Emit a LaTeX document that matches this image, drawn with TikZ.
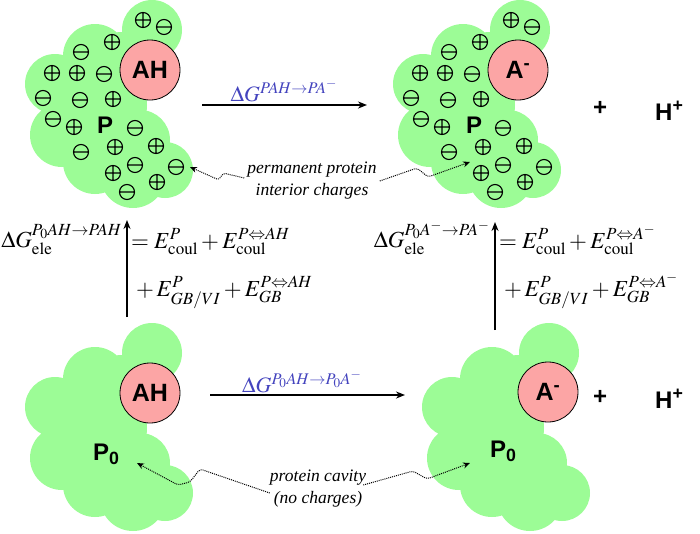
\documentclass[tikz,border=0pt]{standalone}
\usepackage{mathptmx}
\usepackage[no-math]{fontspec}
\setmainfont{Liberation Serif}
\newfontfamily\arialfam{Liberation Sans}
\usetikzlibrary{arrows.meta}
\definecolor{protgreen}{RGB}{156,252,150}
\definecolor{pinkball}{RGB}{252,165,165}
\definecolor{dgblue}{RGB}{68,68,190}
\tikzset{
  protein/.style={fill=protgreen},
  chg/.style={line width=1.1pt},
  chplus/.pic={\draw[chg] (0,0) circle (7.5) (-7.5,0)--(7.5,0) (0,-7.5)--(0,7.5);},
  chminus/.pic={\draw[chg] (0,0) circle (7.5) (-7.5,0)--(7.5,0);},
  blob/.pic={
    \fill[protein] (152,30) circle (30) (120,58) circle (26) (95,56) circle (32)
      (55,84) circle (30) (62,135) circle (32) (95,162) circle (32)
      (133,175) circle (33) (165,170) circle (28) (140,140) circle (30)
      (105,105) circle (42);},
  charges/.pic={
    \foreach \p in {(143,20),(112,42),(52,73),(77,73),(113,99),(74,127),(115,147),(156,146),(113,173),(157,182)}
      \pic at \p {chplus};
    \foreach \p in {(164,27),(81,52),(104,74),(43,98),(80,100),(53,119),(135,128),(81,152),(135,165),(176,167),(127,192)}
      \pic at \p {chminus};},
  ball/.style={circle, draw=black, line width=0.8pt, fill=pinkball, minimum size=60pt, inner sep=0pt,
    font=\arialfam\bfseries\fontsize{25}{25}\selectfont},
  biglabel/.style={font=\arialfam\bfseries\fontsize{24}{24}\selectfont, inner sep=0pt},
  rxn/.style={line width=1.5pt, -{Stealth[length=9pt,width=7pt]}},
  wig/.style={densely dotted, line width=1pt, rounded corners=3pt, -{Stealth[length=7pt,width=6pt]}},
  note/.style={font=\itshape\fontsize{17.5}{22}\selectfont, align=center, inner sep=0pt},
  eqn/.style={font=\fontsize{23}{27}\selectfont, inner sep=0pt},
  dglabel/.style={font=\fontsize{22}{26}\selectfont, text=dgblue, inner sep=0pt},
}
\begin{document}
\begin{tikzpicture}[x=1pt,y=-1pt]
\useasboundingbox (0,0) rectangle (700,533);
% blobs
\pic at (0,0) {blob};
\pic at (368,0) {blob};
\pic at (0,323) {blob};
\pic at (397,323) {blob};
\pic at (0,0) {charges};
\pic at (368,0) {charges};
% acid groups
\node[ball] (ah1) at (150,70) {AH};
\node[ball] (am1) at (518,70) {A\textsuperscript{-}};
\node[ball] (ah2) at (150,393) {AH};
\node[ball] (am2) at (548,392) {A\textsuperscript{-}};
% protein labels
\node[biglabel, anchor=base west] (p1) at (97,133) {P};
\node[biglabel, anchor=base west] (p2) at (466,133) {P};
\node[biglabel, anchor=base west] (p3) at (93,460) {P\textsubscript{0}};
\node[biglabel, anchor=base west] (p4) at (490,457) {P\textsubscript{0}};
% + H+
\node[biglabel] (plus1) at (600,108) {+};
\node[biglabel, anchor=base west] (h1) at (655,120) {H\textsuperscript{+}};
\node[biglabel] (plus2) at (600,397) {+};
\node[biglabel, anchor=base west] (h2) at (655,408) {H\textsuperscript{+}};
% horizontal arrows
\coordinate (ta) at (202,105);
\coordinate (tb) at (367,105);
\coordinate (ba) at (210,395);
\coordinate (bb) at (405,395);
\draw[rxn] (ta) -- (tb);
\draw[rxn] (ba) -- (bb);
\node[dglabel, anchor=base] (dgt) at (284,101) {$\Delta G^{PAH\rightarrow PA^{-}}$};
\node[dglabel, anchor=base] (dgb) at (302,392) {$\Delta G^{P_0AH\rightarrow P_0A^{-}}$};
% vertical arrows
\coordinate (la) at (127,317);
\coordinate (lb) at (127,220);
\coordinate (ra) at (495,330);
\coordinate (rb) at (495,222);
\draw[rxn] (la) -- (lb);
\draw[rxn] (ra) -- (rb);
% equations
\node[eqn, anchor=base east] (el1) at (122,247) {$\Delta G_{\mathrm{ele}}^{P_0AH\rightarrow PAH}$};
\node[eqn, anchor=base west] (el2) at (131,248) {$=E_{\mathrm{coul}}^{P}+E_{\mathrm{coul}}^{P\Leftrightarrow AH}$};
\node[eqn, anchor=base west] (el3) at (136,296) {$+\,E_{GB/VI}^{P}+E_{GB}^{P\Leftrightarrow AH}$};
\node[eqn, anchor=base east] (er1) at (490,247) {$\Delta G_{\mathrm{ele}}^{P_0A^{-}\rightarrow PA^{-}}$};
\node[eqn, anchor=base west] (er2) at (499,248) {$=E_{\mathrm{coul}}^{P}+E_{\mathrm{coul}}^{P\Leftrightarrow A^{-}}$};
\node[eqn, anchor=base west] (er3) at (504,296) {$+\,E_{GB/VI}^{P}+E_{GB}^{P\Leftrightarrow A^{-}}$};
% notes
\node[note] (perm) at (312,181) {permanent protein\\interior charges};
\node[note] (cav) at (318,489) {protein cavity\\(no charges)};
\coordinate (pt1) at (190,167);
\coordinate (pt2) at (470,162);
\coordinate (ct1) at (137,463);
\coordinate (ct2) at (470,463);
\draw[wig] (perm.west) ++(-3,-3) -- (223,173) -- (219,180) -- (pt1);
\draw[wig] (perm.east) ++(3,0) -- (417,168) -- (428,177) -- (pt2);
\draw[wig] (cav.west) ++(0,4) -- (200,469) -- (190,482) -- (178,485) -- (ct1);
\draw[wig] (cav.east) ++(-3,-4) -- (413,471) -- (427,479) -- (ct2);
\end{tikzpicture}
\end{document}
